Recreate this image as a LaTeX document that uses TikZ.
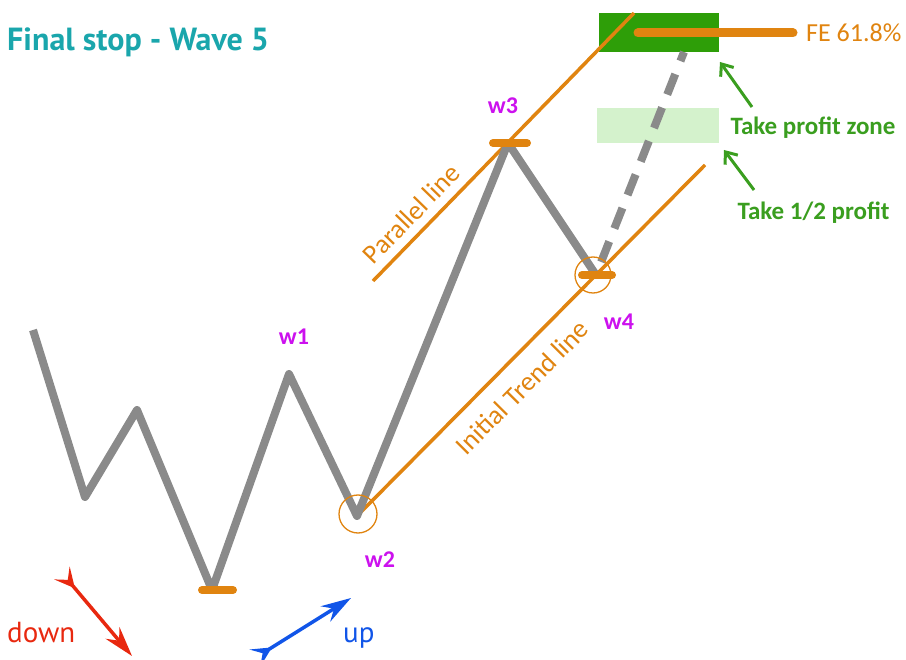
\documentclass[tikz,border=0pt]{standalone}
\usepackage{fontspec}
\setmainfont{Carlito}
\newfontfamily\titlefont{PT Sans}
\usetikzlibrary{arrows.meta}

\definecolor{waveGray}{RGB}{138,138,138}
\definecolor{lineOrange}{RGB}{224,132,16}
\definecolor{waveMagenta}{RGB}{204,17,238}
\definecolor{targetGreen}{RGB}{46,158,8}
\definecolor{zoneGreen}{RGB}{212,242,204}
\definecolor{noteGreen}{RGB}{58,158,31}
\definecolor{titleTeal}{RGB}{26,166,172}
\definecolor{downRed}{RGB}{232,40,15}
\definecolor{upBlue}{RGB}{17,85,232}

\begin{document}
\begin{tikzpicture}[
        x=1pt, y=-1pt,
        wave/.style={draw=waveGray, line width=8pt, line join=round},
        trend/.style={draw=lineOrange, line width=3.5pt},
        level bar/.style={draw=lineOrange, line width=8pt, line cap=round},
        pivot/.style={circle, draw=lineOrange, line width=1.3pt, minimum size=38pt, inner sep=0pt},
        wave label/.style={text=waveMagenta, font=\bfseries\fontsize{24}{24}\selectfont},
        trend label/.style={text=lineOrange, font=\fontsize{27}{27}\selectfont, sloped},
        note/.style={text=noteGreen, font=\bfseries\fontsize{25}{25}\selectfont, anchor=west},
        pointer/.style={draw=noteGreen, line width=3pt, arrows={-Straight Barb[length=10pt, width=16pt, line width=3pt]}},
        trend arrow/.style={line width=3.5pt, arrows={Stealth[reversed, length=20pt, width=20pt, inset=9pt]-Stealth[length=30pt, width=18pt, inset=10pt]}}
    ]
    \useasboundingbox (0,0) rectangle (906,660);

    % wave points
    \coordinate (p0) at (33,330);
    \coordinate (p1) at (85,497);
    \coordinate (p2) at (137,410);
    \coordinate (p3) at (212,590);
    \coordinate (w1) at (289,374);
    \coordinate (w2) at (357,516);
    \coordinate (w3) at (508,143);
    \coordinate (w4) at (596,275);
    \coordinate (fe tip) at (684,52);

    % target boxes
    \node[fill=targetGreen, minimum width=120pt, minimum height=39pt, inner sep=0pt] (target) at (659,32.5) {};
    \node[fill=zoneGreen, minimum width=122pt, minimum height=35pt, inner sep=0pt] (zone) at (658,125.5) {};

    % channel lines
    \coordinate (trend end) at (705,165);
    \coordinate (par start) at (373,281);
    \coordinate (par end) at (634,13);
    \draw[trend] (w2) -- (trend end)
        node[trend label, pos=0.42, below=12pt] {Initial Trend line};
    \draw[trend] (par start) -- (par end)
        node[trend label, pos=0.2, above=5pt] {Parallel line};

    % the wave
    \draw[wave] (p0) -- (p1) -- (p2) -- (p3) -- (w1) -- (w2) -- (w3) -- (w4);
    \draw[wave, dash pattern=on 22pt off 14pt, dash phase=22pt] (w4) -- (fe tip);

    % levels
    \draw[level bar] ([xshift=-15pt]w3) -- ([xshift=19pt]w3);
    \draw[level bar] ([xshift=-14pt]w4) -- ([xshift=16pt]w4);
    \draw[level bar] ([xshift=-10pt]p3) -- ([xshift=21pt]p3);
    \node[pivot] (w2 ring) at (358,514) {};
    \node[pivot, minimum size=36pt] (w4 ring) at (593,275) {};

    % FE level
    \node[text=lineOrange, font=\fontsize{26}{26}\selectfont, anchor=west, inner sep=0pt] (fe label) at (806,33) {FE 61.8\%};
    \coordinate (fe start) at (638,33);
    \coordinate (fe stop) at (793,33);
    \draw[level bar, line width=9pt] (fe start) -- (fe stop);

    % wave labels
    \node[wave label] (w1 label) at (294,337) {w1};
    \node[wave label] (w2 label) at (380,560) {w2};
    \node[wave label] (w3 label) at (503,106) {w3};
    \node[wave label] (w4 label) at (619,322) {w4};

    % notes
    \node[note] (zone note) at (727,128) {Take profit zone};
    \node[note] (half note) at (734,213) {Take 1/2 profit};
    \coordinate (zone tail) at (752,107);
    \coordinate (zone tip) at (720,62);
    \coordinate (half tail) at (754,190);
    \coordinate (half tip) at (724,150);
    \draw[pointer] (zone tail) -- (zone tip);
    \draw[pointer] (half tail) -- (half tip);

    % title
    \node[text=titleTeal, font=\titlefont\bfseries\fontsize{32}{32}\selectfont, anchor=west, inner sep=0pt] (title) at (7,42) {Final stop - Wave 5};

    % direction arrows
    \coordinate (down tail) at (62,573);
    \coordinate (down head) at (132,656);
    \coordinate (up tail) at (255,658);
    \coordinate (up head) at (351,598);
    \draw[trend arrow, downRed] (down tail) -- (down head);
    \draw[trend arrow, upBlue] (up tail) -- (up head);
    \node[text=downRed, font=\titlefont\fontsize{29}{29}\selectfont, anchor=west, inner sep=0pt] (down label) at (7,633) {down};
    \node[text=upBlue, font=\titlefont\fontsize{29}{29}\selectfont, anchor=west, inner sep=0pt] (up label) at (343,638) {up};
\end{tikzpicture}
\end{document}
